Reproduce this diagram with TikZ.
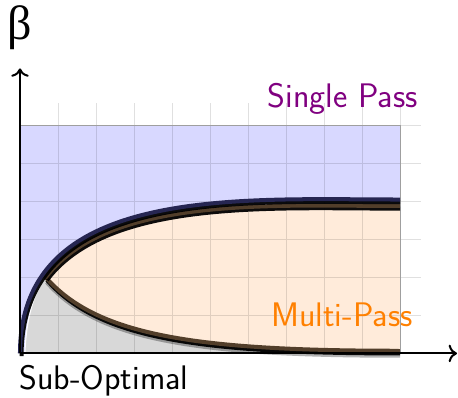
\documentclass[tikz,border=0pt]{standalone}
\usepackage{fontspec}
\newfontfamily\betafont{Liberation Serif}
\usepackage{tikz}
\usetikzlibrary{arrows.meta}
\begin{document}
\begin{tikzpicture}[x=1cm,y=1cm,
  lbl/.style={font=\fontsize{25.5}{30}\selectfont\sffamily, inner sep=0pt},
  gridline/.style={draw=black, opacity=0.12, line width=0.6pt},
  curveline/.style={line width=3pt, line cap=butt, line join=round},
  shadowline/.style={line width=3pt, line cap=butt, draw=black, opacity=0.95},
  softshadow/.style={line width=3.6pt, line cap=butt, draw=black, opacity=0.3},
  axisline/.style={line width=1.5pt, -{To[length=2.2mm,width=4.6mm]}, draw=black}
]
\definecolor{navyline}{RGB}{38,38,82}
\definecolor{brownline}{RGB}{82,62,42}
\definecolor{bluefill}{RGB}{216,216,255}
\definecolor{orangefill}{RGB}{255,235,218}
\definecolor{grayfill}{RGB}{216,216,216}
\definecolor{purpletext}{RGB}{128,0,128}
\definecolor{orangetext}{RGB}{255,128,0}
\useasboundingbox (-0.526,-1.17) rectangle (11.526,9.30);

% regions
\fill[bluefill] (0,0) rectangle (10,6);
\fill[orangefill] (0.68,2.0) .. controls (2.3,4.15) and (6.64,3.88) .. (10,3.88)
  -- (10,0.07) .. controls (4.5,0.07) and (2,0.5) .. (0.68,2.0) -- cycle;
\fill[grayfill] (0.13,0) .. controls (0.16,0.9) and (0.36,1.6) .. (0.68,2.0)
  .. controls (2,0.5) and (4.5,0.07) .. (10,0.07) -- (10,0) -- cycle;
\draw[white, line width=0.8pt] (0.13,0) .. controls (0.16,0.9) and (0.36,1.6) .. (0.68,2.0);

% grid
\draw[gridline] (0,0) grid (10.55,6.58);
\draw[draw=gray!75, line width=0.7pt] (0,6) -- (10,6) -- (10,0);

% lower orange boundary with shadow
\draw[softshadow, shift={(0.03,-0.12)}] (0.68,2.0) .. controls (2,0.5) and (4.5,0.07) .. (9.97,0.07);
\draw[shadowline, shift={(0.03,-0.07)}] (0.68,2.0) .. controls (2,0.5) and (4.5,0.07) .. (9.97,0.07);
\draw[curveline, brownline, line cap=round] (0.68,2.0) .. controls (2,0.5) and (4.5,0.07) .. (9.95,0.07);
\draw[curveline, brownline] (9.9,0.07) -- (10,0.07);

% upper orange boundary with shadow
\draw[shadowline, shift={(0.03,-0.07)}] (0.68,2.0) .. controls (2.3,4.15) and (6.64,3.88) .. (9.97,3.88);
\draw[curveline, brownline, line cap=round] (0.68,2.0) .. controls (2.3,4.15) and (6.64,3.88) .. (9.95,3.88);
\draw[curveline, brownline] (9.9,3.88) -- (10,3.88);

% navy boundary with shadow
\draw[shadowline, shift={(0.04,-0.07)}] (0,0) .. controls (0,4.45) and (5.8,4.05) .. (9.96,4.05);
\draw[curveline, navyline] (0,0) .. controls (0,4.45) and (5.8,4.05) .. (10,4.05);

% axes
\coordinate (o) at (0,0);
\coordinate (xend) at (11.5,0);
\coordinate (yend) at (0,7.5);
\draw[axisline] (o) -- (xend);
\draw[axisline] (o) -- (yend);

% labels
\node[font=\fontsize{36}{40}\selectfont\betafont, inner sep=0pt] (beta) at (0,8.58) {β};
\node[lbl, text=purpletext, anchor=base east] (single) at (10.47,6.47) {Single Pass};
\node[lbl, text=orangetext, anchor=base east] (multi) at (10.34,0.71) {Multi-Pass};
\node[lbl, anchor=base west] (sub) at (-0.02,-0.95) {Sub-Optimal};
\end{tikzpicture}
\end{document}
